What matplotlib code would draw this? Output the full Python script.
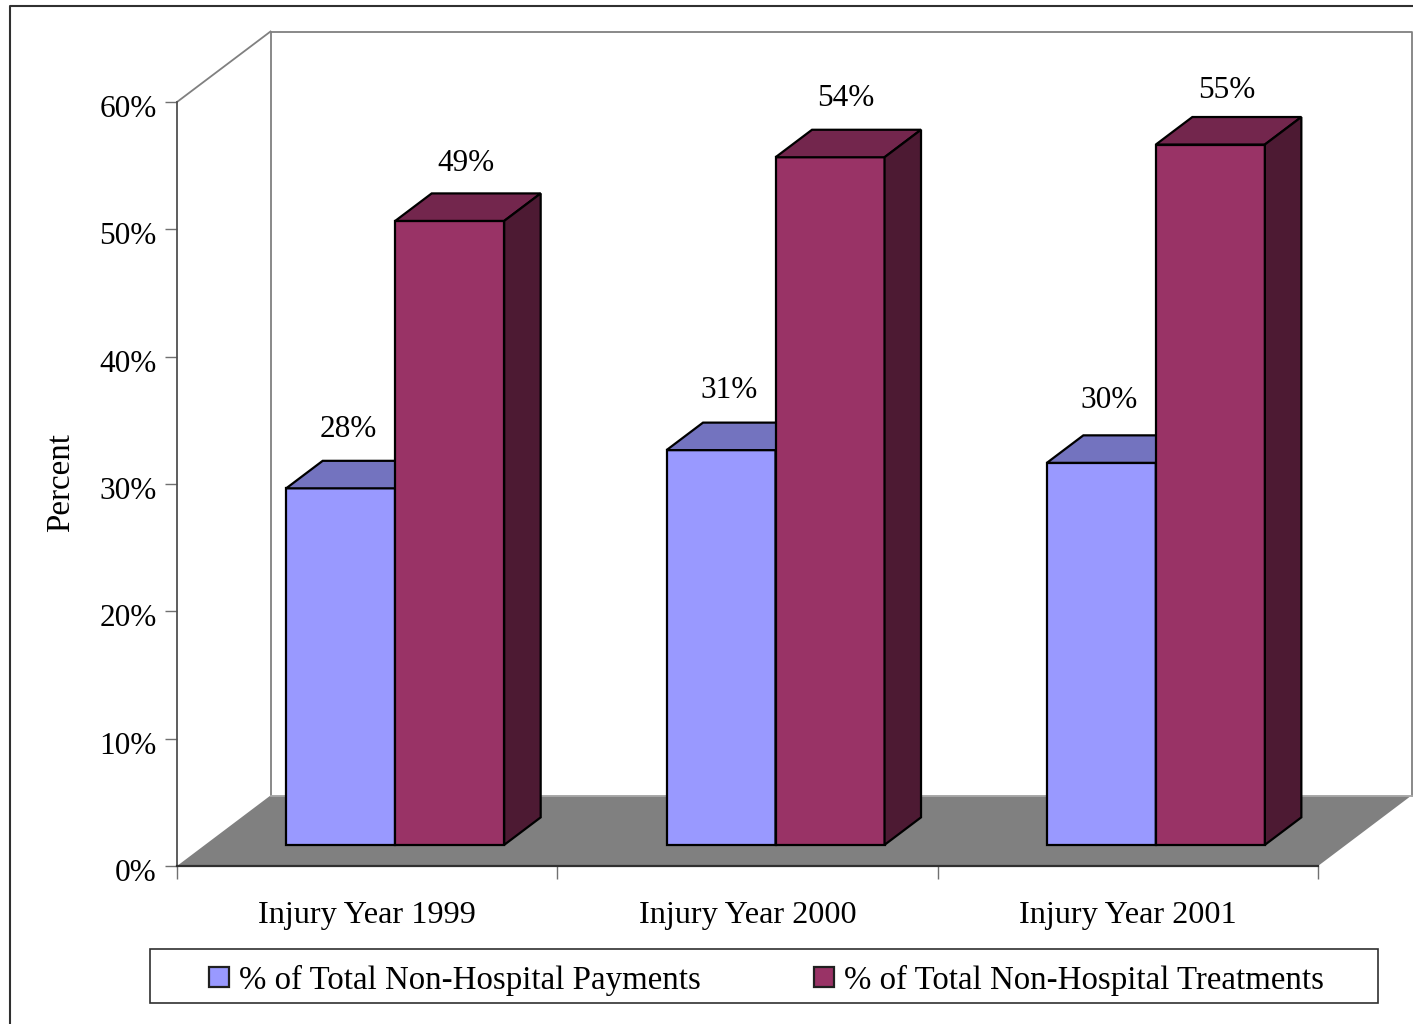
import matplotlib
matplotlib.use("Agg")
import matplotlib.pyplot as plt
import matplotlib.transforms as mtrans
from matplotlib.patches import Polygon, Rectangle
from matplotlib.lines import Line2D

categories = ["Injury Year 1999", "Injury Year 2000", "Injury Year 2001"]
payments = [28, 31, 30]
treatments = [49, 54, 55]
yticks = [0, 10, 20, 30, 40, 50, 60]
series_names = ["% of Total Non-Hospital Payments", "% of Total Non-Hospital Treatments"]

W, H = 1413, 1024
X0, X1, Y0, Y1 = 177.0, 1318.0, 866.0, 102.0
plt.rcParams["font.family"] = ["Liberation Serif", "DejaVu Serif"]
FS = 22.5
FS_CAT = 23.2
FS_LEG = 23.7

fig = plt.figure(figsize=(W / 100, H / 100), dpi=100)
ax = fig.add_axes([X0 / W, 1 - Y0 / H, (X1 - X0) / W, (Y0 - Y1) / H])
ax.set_xlim(0, 3)
ax.set_ylim(0, 60)
ax.patch.set_visible(False)

PX = (X1 - X0) / 3          # pixels per category
PY = (Y0 - Y1) / 60         # pixels per percent
DX, DY = 93.5 / PX, 70.5 / PY  # full depth of the 3-D box
F = 0.30                    # front gap as part of depth
B = 0.39                    # bar depth as part of depth
BW = 109.0 / PX             # bar width
GC = 0.5                    # group centre
PT = 72 / 100               # points per pixel


def poly(pts, fc, ec="none", lw=0, z=1):
    ax.add_patch(Polygon(pts, closed=True, fc=fc, ec=ec, lw=lw, zorder=z,
                         clip_on=False, joinstyle="miter"))


# floor and walls
poly([(0, 0), (DX, DY), (3 + DX, DY), (3, 0)], "#808080", z=1)
wall = "#808080"
ax.plot([DX, DX, 3 + DX, 3 + DX], [DY, 60 + DY, 60 + DY, DY], color=wall, lw=1.3,
        clip_on=False, zorder=1.2)
ax.plot([DX, 3 + DX], [DY, DY], color="#a8a8a8", lw=1.3, clip_on=False, zorder=1.2)
ax.plot([0, DX], [60, 60 + DY], color=wall, lw=1.3, clip_on=False, zorder=1.2)

# axis lines
for s in ("top", "right"):
    ax.spines[s].set_visible(False)
ax.spines["left"].set_color("#505050")
ax.spines["left"].set_linewidth(1.3)
ax.spines["bottom"].set_color("#303030")
ax.spines["bottom"].set_linewidth(1.6)
ax.set_xticks([0, 1, 2, 3])
ax.set_xticklabels([])
ax.set_yticks(yticks)
ax.set_yticklabels([f"{v}%" for v in yticks], fontsize=FS)
ax.tick_params(axis="y", length=8.5, width=1.0, color="#707070", pad=6.2)
ax.tick_params(axis="x", length=9, width=1.0, color="#707070")
ax.set_ylabel("Percent", fontsize=23.8, labelpad=17)
ax.yaxis.label.set_y(0.502)
for i, c in enumerate(categories):
    ax.annotate(c, (i + GC, 0), xytext=(0, -49 * PT), textcoords="offset points",
                ha="center", va="center", fontsize=FS_CAT)

# nudge y tick labels down to sit like the reference
off = mtrans.ScaledTranslation(0, -4 / 100, fig.dpi_scale_trans)
for lab in ax.get_yticklabels():
    lab.set_transform(lab.get_transform() + off)


def bar(x, v, front, top, side, z):
    fx, fy = DX * F, DY * F
    bx, by = DX * B, DY * B
    kw = dict(ec="black", lw=1.6, z=z)
    poly([(x + fx, fy), (x + fx + BW, fy), (x + fx + BW, fy + v), (x + fx, fy + v)], front, **kw)
    poly([(x + fx, fy + v), (x + fx + BW, fy + v), (x + fx + BW + bx, fy + v + by),
          (x + fx + bx, fy + v + by)], top, **kw)
    poly([(x + fx + BW, fy), (x + fx + BW + bx, fy + by), (x + fx + BW + bx, fy + v + by),
          (x + fx + BW, fy + v)], side, **kw)


pay_dy = [59, 60, 62]    # label lift above the bar, pixels
trt_dy = [57, 59, 54]

for i in range(len(categories)):
    left = i + GC - BW
    bar(left, payments[i], "#9999ff", "#7373bf", "#4d4d80", 3 + i)
    bar(left + BW, treatments[i], "#993366", "#73264d", "#4d1a33", 3.5 + i)
    ax.annotate(f"{payments[i]}%", (left + DX * F + BW / 2, payments[i] + DY * F),
                xytext=(8 * PT, pay_dy[i] * PT),
                textcoords="offset points", ha="center", va="center", fontsize=FS, zorder=10)
    ax.annotate(f"{treatments[i]}%", (left + BW + DX * F + BW / 2, treatments[i] + DY * F),
                xytext=(16 * PT, trt_dy[i] * PT),
                textcoords="offset points", ha="center", va="center", fontsize=FS, zorder=10)

# legend box
fa = fig.add_axes([0, 0, 1, 1], zorder=-1)
fa.set_xlim(0, W)
fa.set_ylim(H, 0)
fa.axis("off")
fa.add_patch(Rectangle((150, 949), 1227.5, 54, fc="white", ec="#303030", lw=1.2))
fa.add_patch(Rectangle((208.5, 966.5), 20, 20, fc="#9999ff", ec="#202020", lw=1.6))
fa.add_patch(Rectangle((813.5, 966.5), 20, 20, fc="#993366", ec="#202020", lw=1.6))
fa.text(239, 980, series_names[0], fontsize=FS_LEG, va="center", ha="left")
fa.text(844, 980, series_names[1], fontsize=FS_LEG, va="center", ha="left")
# outer frame, left and top only
fa.add_line(Line2D([9.5, 9.5, W], [H, 6.0, 6.0], color="#303030", lw=1.5))

fig.savefig("out.png", dpi=100)
